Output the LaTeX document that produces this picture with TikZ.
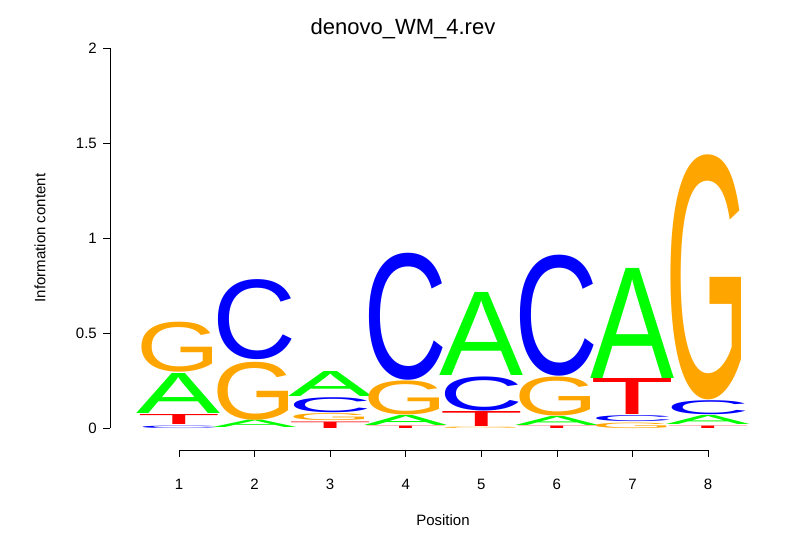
\documentclass[tikz,border=0pt]{standalone}
\usepackage{fontspec}
\setmainfont{Liberation Sans}
\usepackage{graphicx}
\definecolor{cA}{RGB}{0,255,0}
\definecolor{cC}{RGB}{0,0,255}
\definecolor{cG}{RGB}{255,165,0}
\definecolor{cT}{RGB}{255,0,0}
\newcommand{\lgo}[5]{% x, top, bottom, letter, colour (image px)
  \node[anchor=south,inner sep=0pt,outer sep=0pt] at ({#1},{559-#3})
    {\resizebox*{84pt}{\dimexpr #3pt-#2pt\relax}{\color{#5}#4}};}
\begin{document}
\begin{tikzpicture}[x=1pt,y=1pt,
  tick/.style={line width=0.6pt},
  lab/.style={font=\fontsize{15}{18}\selectfont,inner sep=0pt}]
\useasboundingbox (0,0) rectangle (806,559);
% title
\node[font=\fontsize{22}{26}\selectfont] (title) at (403,530) {denovo\_WM\_4.rev};
% y axis
\draw[tick] (110,131) -- (110,511);
\foreach \v/\y in {0/428,0.5/333,1/238,1.5/143,2/48}{
  \draw[tick] (110,559-\y) -- (103,559-\y);
  \node[lab,anchor=east] at (97,559-\y) {\v};}
\node[lab,rotate=90] (ylab) at (40,321) {Information content};
% x axis
\draw[tick] (179,109) -- (708,109);
\foreach \i in {1,...,8}{
  \pgfmathsetmacro{\xx}{179+(\i-1)*75.57}
  \draw[tick] (\xx,109) -- (\xx,102);
  \node[lab] at (\xx,75) {\i};}
\node[lab] (xlab) at (443,39) {Position};
% letters: x, top, bottom
\lgo{179}{426}{428.5}{C}{cC}
\lgo{179}{415}{425}{T}{cT}
\lgo{179}{374}{414}{A}{cA}
\lgo{179}{322}{372}{G}{cG}
%
\lgo{254.6}{420}{427.5}{A}{cA}
\lgo{254.6}{362}{420}{G}{cG}
\lgo{254.6}{280}{360}{C}{cC}
%
\lgo{330.1}{422}{428.5}{T}{cT}
\lgo{330.1}{414}{421}{G}{cG}
\lgo{330.1}{398}{413}{C}{cC}
\lgo{330.1}{372}{397}{A}{cA}
%
\lgo{405.7}{426}{428.5}{T}{cT}
\lgo{405.7}{416}{426}{A}{cA}
\lgo{405.7}{381}{415}{G}{cG}
\lgo{405.7}{253}{380}{C}{cC}
%
\lgo{481.3}{427}{428.5}{G}{cG}
\lgo{481.3}{412}{427}{T}{cT}
\lgo{481.3}{377}{411}{C}{cC}
\lgo{481.3}{293}{376}{A}{cA}
%
\lgo{556.9}{426}{428.5}{T}{cT}
\lgo{556.9}{417}{426}{A}{cA}
\lgo{556.9}{377}{416}{G}{cG}
\lgo{556.9}{255}{376}{C}{cC}
%
\lgo{632.4}{423}{428.5}{G}{cG}
\lgo{632.4}{416}{422}{C}{cC}
\lgo{632.4}{379}{415}{T}{cT}
\lgo{632.4}{268}{378}{A}{cA}
%
\lgo{708}{426}{428.5}{T}{cT}
\lgo{708}{416}{425}{A}{cA}
\lgo{708}{401}{415}{C}{cC}
\lgo{708}{155}{400}{G}{cG}
\end{tikzpicture}
\end{document}
